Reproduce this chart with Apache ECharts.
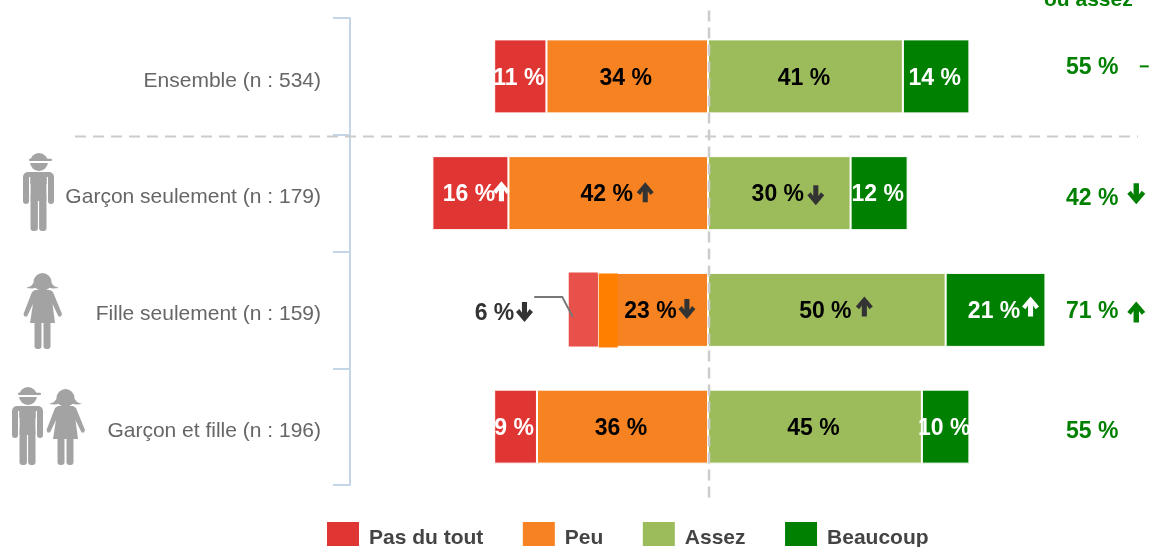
<!DOCTYPE html>
<html>
<head>
<meta charset="utf-8">
<style>html,body{margin:0;padding:0;background:#fff}#c{width:1150px;height:547px}</style>
<script src="https://cdn.jsdelivr.net/npm/echarts@6/dist/echarts.min.js"></script>
</head>
<body>
<div id="c"></div>
<script>
const categories = ['Ensemble (n : 534)', 'Garçon seulement (n : 179)', 'Fille seulement (n : 159)', 'Garçon et fille (n : 196)'];
const pasDuTout = [11, 16, 6, 9];
const peu = [34, 42, 23, 36];
const assez = [41, 30, 50, 45];
const beaucoup = [14, 12, 21, 10];
const totals = [55, 42, 71, 55];
const legendNames = ['Pas du tout', 'Peu', 'Assez', 'Beaucoup'];
const pasDuToutArrows = [null, 'up', 'down', null];
const peuArrows = [null, 'up', 'down', null];
const assezArrows = [null, 'down', 'up', null];
const beaucoupArrows = [null, null, 'up', null];
const totalArrows = ['flat', 'down', 'up', null];
const totalHeader = 'ou assez';

const FONT = '"Liberation Sans", Arial, sans-serif';
const COL = {red: '#e03633', orange: '#f68222', light: '#9cbc5b', green: '#008000', dark: '#333333'};
const UP = 'path://M50 0 L100 50 L80 64 L65 46 L65 100 L35 100 L35 46 L20 64 L0 50 Z';
const DOWN = 'path://M50 100 L100 50 L80 36 L65 54 L65 0 L35 0 L35 54 L20 36 L0 50 Z';
const X_TOTAL = 80.85;
const BAR_H = 73;

const pct = v => Math.abs(v) + ' %';
function barSeries(name, values, sign, color, textColor, labelOverrides) {
  return {
    name, type: 'bar', stack: 'all', barWidth: BAR_H + 1,
    itemStyle: {color, borderColor: '#fff', borderWidth: 1},
    label: {show: true, position: 'inside', offset: [-1.5, 2], color: textColor,
      fontFamily: FONT, fontWeight: 'bold', fontSize: 23, formatter: p => pct(p.value)},
    data: values.map((v, i) => {
      const d = {value: sign * v};
      if (labelOverrides && labelOverrides[i]) Object.assign(d, labelOverrides[i]);
      return d;
    })
  };
}

// mid-point of each segment, for the arrows beside the labels
const midPasDuTout = pasDuTout.map((v, i) => -(peu[i] + v / 2));
const midPeu = peu.map(v => -v / 2);
const midAssez = assez.map(v => v / 2);
const midBeaucoup = beaucoup.map((v, i) => assez[i] + v / 2);

const arrowData = [];
function addArrows(mids, dirs, color, offs) {
  dirs.forEach((d, i) => {
    if (!d) return;
    arrowData.push({
      value: [mids[i], categories[i]],
      symbol: d === 'up' ? UP : DOWN,
      symbolSize: [17, 20],
      symbolOffset: offs[i],
      itemStyle: {color: typeof color === 'function' ? color(i) : color, opacity: 1}
    });
  });
}
addArrows(midPasDuTout, pasDuToutArrows, i => i === 1 ? '#fff' : COL.dark, [null, [31, -2], [-60, 2], null]);
addArrows(midPeu, peuArrows, COL.dark, [null, [37, -1], [33.5, -1], null]);
addArrows(midAssez, assezArrows, COL.dark, [null, [36.5, 2], [37.5, -3.5], null]);
addArrows(midBeaucoup, beaucoupArrows, '#fff', [null, null, [35, -3.5], null]);

const totalOffsets = [-8.9, 5.4, 1.5, 4.9];
const totalArrowOffsets = [[52, -10], [44, 0.5], [44, 2], null];
const totalArrowData = [];
totalArrows.forEach((d, i) => {
  if (!d) return;
  totalArrowData.push({
    value: [X_TOTAL, categories[i]],
    symbol: d === 'up' ? UP : d === 'down' ? DOWN : 'rect',
    symbolSize: d === 'flat' ? [9, 2] : [18, 21],
    symbolOffset: totalArrowOffsets[i],
    itemStyle: {color: COL.green, opacity: 1}
  });
});

// decorative silhouettes
function boy(x, y) {
  const f = {fill: '#a3a3a3'};
  return {type: 'group', x, y, silent: true, children: [
    {type: 'circle', shape: {cx: 16, cy: 9, r: 9}, style: f},
    {type: 'rect', shape: {x: 6, y: 5.8, width: 23, height: 2.2, r: 1}, style: f},
    {type: 'rect', shape: {x: 5, y: 8, width: 22, height: 2}, style: {fill: '#fff'}},
    {type: 'rect', shape: {x: 0, y: 19, width: 31, height: 12, r: [5, 5, 0, 0]}, style: f},
    {type: 'rect', shape: {x: 0, y: 24, width: 6, height: 27, r: 3}, style: f},
    {type: 'rect', shape: {x: 25, y: 24, width: 6, height: 27, r: 3}, style: f},
    {type: 'rect', shape: {x: 7.5, y: 24, width: 16, height: 24}, style: f},
    {type: 'rect', shape: {x: 7.5, y: 40, width: 7.4, height: 38, r: 3}, style: f},
    {type: 'rect', shape: {x: 16.1, y: 40, width: 7.4, height: 38, r: 3}, style: f},
    {type: 'rect', shape: {x: 6, y: 24, width: 1.2, height: 27}, style: {fill: '#fff'}},
    {type: 'rect', shape: {x: 23.8, y: 24, width: 1.2, height: 27}, style: {fill: '#fff'}}
  ]};
}
function girl(x, y) {
  const f = {fill: '#a3a3a3'};
  return {type: 'group', x, y, silent: true, children: [
    {type: 'circle', shape: {cx: 19.5, cy: 9, r: 9}, style: f},
    {type: 'polygon', shape: {points: [[3, 15], [8, 13], [12, 8], [27, 8], [31, 13], [36, 15], [30, 15.5], [24, 14.5], [19.5, 12], [15, 14.5], [9, 15.5]]}, style: f},
    {type: 'polygon', shape: {points: [[12, 17], [27, 17], [30, 19], [39, 41], [38, 43.5], [35.5, 43.5], [29.5, 31], [32, 50], [7, 50], [10, 31], [4, 43.5], [1.5, 43.5], [0.5, 41], [9, 19]]}, style: f},
    {type: 'rect', shape: {x: 11.5, y: 48, width: 7, height: 28, r: 3}, style: f},
    {type: 'rect', shape: {x: 20.5, y: 48, width: 7, height: 28, r: 3}, style: f}
  ]};
}

const option = {
  animation: false,
  backgroundColor: '#fff',
  title: {text: totalHeader, left: 1044, top: -10, padding: 0,
    textStyle: {color: COL.green, fontFamily: FONT, fontWeight: 'bold', fontSize: 21}},
  legend: {
    data: legendNames, left: 327, top: 522, padding: 0, itemWidth: 32, itemHeight: 24, itemGap: 39.5, icon: 'rect',
    selectedMode: false,
    itemStyle: {borderWidth: 0},
    formatter: '{a|{name}}',
    textStyle: {color: '#444', fontFamily: FONT, fontWeight: 'bold', fontSize: 21, padding: [8, 0, 0, 5],
      rich: {a: {color: '#444', fontFamily: FONT, fontWeight: 'bold', fontSize: 21}}}
  },
  grid: {left: 422.9, width: 728.3, top: 18, height: 467},
  xAxis: {type: 'value', min: -60, max: 93, show: false},
  yAxis: {
    type: 'category', data: categories, inverse: true, offset: 72.9,
    axisLine: {show: true, onZero: false, lineStyle: {color: '#c5d5e8', width: 2}},
    axisTick: {show: true, length: 17, lineStyle: {color: '#c5d5e8', width: 2}},
    axisLabel: {color: '#666', fontFamily: FONT, fontSize: 21, margin: 29, padding: [9, 0, 0, 0],
      formatter: '{a|{value}}',
      rich: {a: {color: '#666', fontFamily: FONT, fontSize: 21}}}
  },
  graphic: [
    {type: 'line', silent: true, z: 5, shape: {x1: 75, y1: 136.5, x2: 1138, y2: 136.5},
      style: {stroke: '#cccccc', lineWidth: 2, lineDash: [11, 7]}},
    boy(23, 153), girl(23, 273), boy(12, 387), girl(46, 389)
  ],
  series: [
    barSeries('Peu', peu, -1, COL.orange, '#000', {2: {label: {offset: [-3, 2]}}}),
    barSeries('Pas du tout', pasDuTout, -1, COL.red, '#fff', {
      2: {label: {offset: [-90, 4], color: COL.dark}}
    }),
    barSeries('Assez', assez, 1, COL.light, '#000'),
    barSeries('Beaucoup', beaucoup, 1, COL.green, '#fff'),
    { // highlighted portion of the "Fille seulement" row and its leader line
      type: 'custom', z: 3, silent: true,
      data: [[-pasDuTout[2] - peu[2], -peu[2], categories[2]]],
      encode: {x: [0, 1], y: 2},
      renderItem(params, api) {
        const a = api.coord([api.value(0), 2]);
        const b = api.coord([-peu[2], 2]);
        const c = api.coord([-peu[2] + 4, 2]);
        return {type: 'group', children: [
          {type: 'rect', shape: {x: a[0] - 1.5, y: a[1] - BAR_H / 2 - 1, width: b[0] - a[0] + 0.5, height: BAR_H + 1}, style: {fill: '#e8504a'}},
          {type: 'rect', shape: {x: b[0], y: b[1] - BAR_H / 2, width: c[0] - b[0], height: BAR_H + 1}, style: {fill: '#ff8000'}},
          {type: 'polyline', shape: {points: [[a[0] - 36, a[1] - 13], [a[0] - 8, a[1] - 13], [a[0] + 2.5, a[1] + 7]]},
            style: {stroke: '#777', lineWidth: 2, fill: 'none'}}
        ]};
      }
    },
    { // vertical reference line at 0
      type: 'custom', z: 6, silent: true,
      data: [[0]],
      encode: {x: 0},
      renderItem(params, api) {
        const t = api.coord([0, 0]), e = api.coord([0, 3]);
        return {type: 'line', shape: {x1: t[0] + 1, y1: t[1] - 66, x2: t[0] + 1, y2: e[1] + 74},
          style: {stroke: '#cccccc', lineWidth: 2.5, lineDash: [11, 6]}};
      }
    },
    { // arrows beside the labels
      type: 'scatter', z: 7, silent: true, data: arrowData, label: {show: false}
    },
    { // right-hand totals column
      type: 'scatter', z: 7, silent: true, symbolSize: 1,
      itemStyle: {color: 'transparent', opacity: 1},
      data: totals.map((v, i) => ({
        value: [X_TOTAL, categories[i]],
        label: {show: true, position: 'inside', formatter: v + ' %', offset: [0, totalOffsets[i]],
          color: COL.green, fontFamily: FONT, fontWeight: 'bold', fontSize: 23}
      }))
    },
    {
      type: 'scatter', z: 7, silent: true, data: totalArrowData, label: {show: false}
    }
  ]
};
const chart = echarts.init(document.getElementById('c'), null, {renderer: 'canvas'});
chart.setOption(option);
</script>
</body>
</html>
